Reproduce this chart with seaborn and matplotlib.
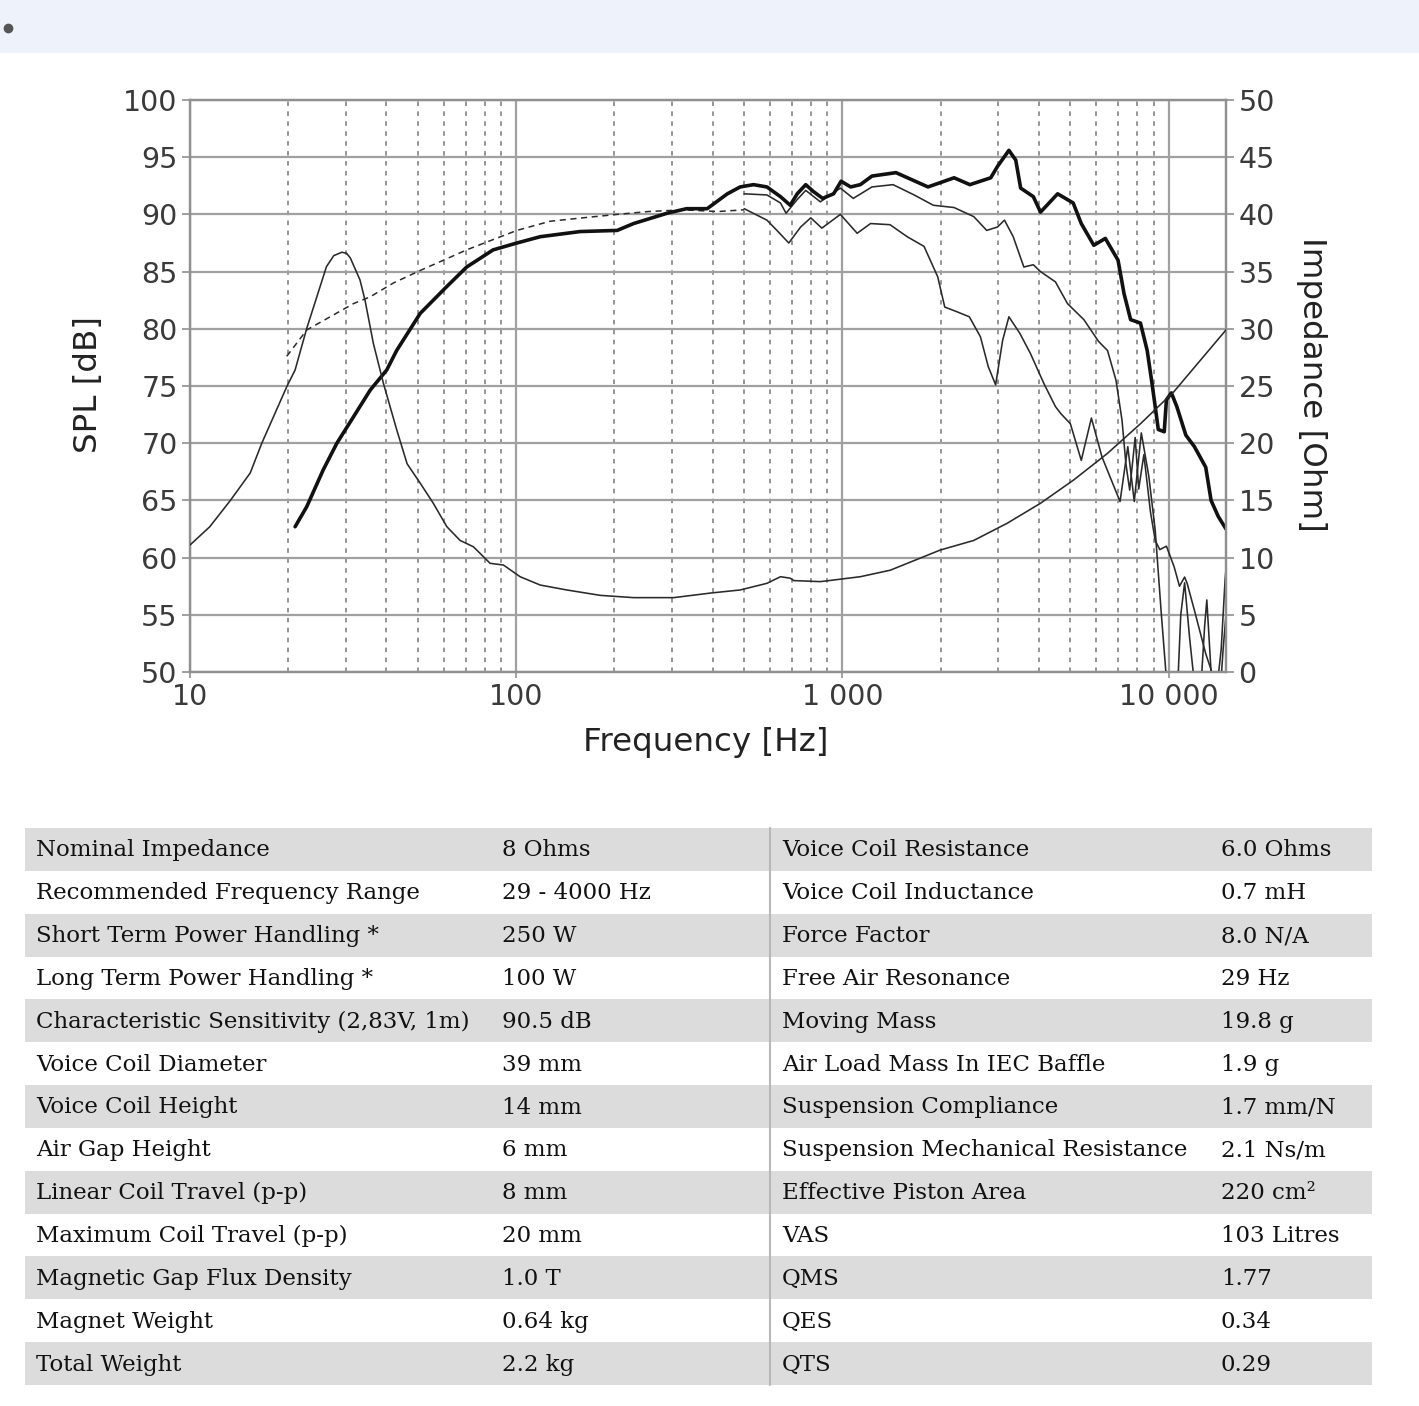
import numpy as np
import pandas as pd
import matplotlib
matplotlib.use("Agg")
import matplotlib.pyplot as plt
import seaborn as sns
from matplotlib.ticker import FixedLocator, NullFormatter, FixedFormatter
from matplotlib.patches import Rectangle
from matplotlib.lines import Line2D

# ---------------- data ----------------
f_on = [21, 22.8, 25.6, 28.2, 31.7, 35.7, 40.1, 43, 50.8, 61.3, 70.5, 85, 100.5, 118.5, 157, 204, 229, 290,
        333, 385, 444, 486, 534, 587, 646, 692, 727, 772, 815, 870, 940, 991, 1060, 1135, 1232, 1460, 1830,
        2200, 2460, 2850, 2990, 3240, 3400, 3520, 3850, 4050, 4570, 5100, 5400, 5900, 6400, 7000, 7300,
        7650, 8200, 8600, 8900, 9100, 9300, 9700, 9850, 10200, 10600, 11300, 12000, 13000, 13500, 14200,
        15000]
spl_on = [62.7, 64.45, 67.66, 70.0, 72.3, 74.65, 76.4, 78.1, 81.35, 83.7, 85.4, 86.9, 87.5, 88.05, 88.5, 88.6,
          89.2, 90.1, 90.5, 90.5, 91.8, 92.4, 92.6, 92.4, 91.55, 90.8, 91.8, 92.6, 92.0, 91.4, 91.8, 92.9, 92.4,
          92.6, 93.35, 93.65, 92.4, 93.2, 92.6, 93.2, 94.2, 95.6, 94.75, 92.3, 91.55, 90.2, 91.8, 91.0, 89.2,
          87.3, 87.9, 86.0, 83.1, 80.8, 80.5, 78.1, 75.2, 73.2, 71.2, 71.0, 73.8, 74.4, 73.2, 70.7, 69.7,
          67.9, 65.0, 63.6, 62.5]

f_30 = [500, 587, 646, 672, 727, 772, 856, 986, 1080, 1232, 1430, 1660, 1900, 2200, 2530, 2770, 2990, 3140,
        3340, 3600, 3850, 4050, 4500, 4900, 5500, 6100, 6500, 6900, 7200, 7400, 7600, 7900, 8100, 8400, 8800,
        9100, 9400, 9850, 10400, 10800, 11200, 11400, 12000, 13000, 13500, 14000, 14500, 14900, 15000]
spl_30 = [91.8, 91.7, 91.0, 90.1, 91.3, 92.1, 91.1, 92.3, 91.4, 92.4, 92.6, 91.7, 90.8, 90.6, 89.8, 88.6, 88.9,
          89.5, 88.05, 85.4, 85.6, 85.0, 84.1, 82.2, 80.8, 78.9, 78.1, 75.5, 72.0, 68.2, 65.9, 70.5, 66.0,
          69.0, 64.0, 61.5, 60.7, 61.0, 59.2, 57.5, 58.3, 57.75, 55.4, 51.6, 50.2, 48.0, 52.0, 58.0, 59.0]

f_60 = [500, 587, 630, 685, 745, 800, 865, 986, 1110, 1220, 1400, 1580, 1780, 1960, 2060, 2240, 2450, 2650,
        2800, 2950, 3100, 3240, 3500, 3770, 4150, 4500, 4670, 5000, 5400, 5800, 6250, 7100, 7500, 7850, 8250,
        8700, 9100, 9500, 9800, 10100, 10600, 10900, 11200, 11600, 12000, 12400, 12900, 13100, 13500, 13800,
        14300, 14700, 15000]
spl_60 = [90.5, 89.5, 88.6, 87.5, 88.9, 89.7, 88.8, 90.0, 88.35, 89.2, 89.1, 88.05, 87.2, 84.55, 81.9, 81.5,
          81.05, 79.3, 76.7, 75.1, 79.0, 81.05, 79.6, 77.85, 75.2, 73.2, 72.6, 71.7, 68.5, 72.2, 68.8, 64.9,
          69.7, 64.9, 70.9, 67.1, 62.4, 55.1, 50.2, 46.0, 47.0, 55.0, 57.8, 53.0, 49.0, 46.0, 54.0, 56.3, 50.0,
          46.0, 47.0, 52.0, 55.0]

f_dash = [19.8, 22.8, 26.9, 31.7, 35.7, 42.0, 50.8, 59.9, 70.5, 85, 100.5, 127, 160, 204, 254, 325, 415, 500]
spl_dash = [77.6, 79.9, 81.05, 82.2, 82.8, 84.0, 85.1, 86.0, 86.9, 87.8, 88.6, 89.4, 89.7, 90.0, 90.25, 90.4,
            90.25, 90.4]

f_imp = [10, 11.5, 13.3, 15.3, 16.6, 19.8, 21.0, 22.8, 26.2, 27.6, 29.2, 30.2, 31.0, 33.2, 34.4, 36.5, 39.2,
         43.0, 46.3, 50.8, 55.7, 61.3, 67.3, 73.9, 83.2, 91.4, 102.8, 118.5, 143, 181, 229, 304, 394, 486, 587,
         646, 692, 709, 856, 940, 1135, 1403, 1995, 2528, 3200, 4050, 5125, 6490, 8200, 10380, 15000]
z_imp = [11.1, 12.7, 15.0, 17.4, 20.0, 24.94, 26.4, 30.04, 35.43, 36.4, 36.69, 36.6, 36.2, 34.27, 32.5, 28.7,
         25.2, 21.2, 18.2, 16.5, 14.75, 12.7, 11.5, 10.95, 9.5, 9.35, 8.33, 7.6, 7.17, 6.7, 6.5, 6.5, 6.9,
         7.17, 7.75, 8.33, 8.2, 7.99, 7.9, 8.04, 8.33, 8.9, 10.66, 11.5, 13.0, 14.75, 16.8, 19.1, 21.7, 24.5,
         29.9]

x_ticks = [10, 100, 1000, 10000]
x_tick_labels = ["10", "100", "1 000", "10 000"]
spl_ticks = list(range(50, 101, 5))
imp_ticks = list(range(0, 51, 5))

left_params = ["Nominal Impedance", "Recommended Frequency Range", "Short Term Power Handling *",
               "Long Term Power Handling *", "Characteristic Sensitivity (2,83V, 1m)", "Voice Coil Diameter",
               "Voice Coil Height", "Air Gap Height", "Linear Coil Travel (p-p)", "Maximum Coil Travel (p-p)",
               "Magnetic Gap Flux Density", "Magnet Weight", "Total Weight"]
left_values = ["8 Ohms", "29 - 4000 Hz", "250 W", "100 W", "90.5 dB", "39 mm", "14 mm", "6 mm", "8 mm",
               "20 mm", "1.0 T", "0.64 kg", "2.2 kg"]
right_params = ["Voice Coil Resistance", "Voice Coil Inductance", "Force Factor", "Free Air Resonance",
                "Moving Mass", "Air Load Mass In IEC Baffle", "Suspension Compliance",
                "Suspension Mechanical Resistance", "Effective Piston Area", "VAS", "QMS", "QES", "QTS"]
right_values = ["6.0 Ohms", "0.7 mH", "8.0 N/A", "29 Hz", "19.8 g", "1.9 g", "1.7 mm/N", "2.1 Ns/m",
                "220 cm²", "103 Litres", "1.77", "0.34", "0.29"]

# ---------------- figure ----------------
sns.set_theme(style="white")
plt.rcParams['font.family'] = ['DejaVu Sans']

W, H = 1419, 1406
fig = plt.figure(figsize=(W / 100, H / 100), dpi=100)
fig.patch.set_facecolor("white")


def fx(px):
    return px / W


def fy(py):
    return 1 - py / H


# top band with bullet
fig.add_artist(Rectangle((0, fy(53)), 1, 53 / H, transform=fig.transFigure,
                         facecolor="#eef2fa", edgecolor="none", zorder=0))
fig.add_artist(Line2D([fx(8)], [fy(28)], marker="o", markersize=6, color="#555555",
                      transform=fig.transFigure))

ax = fig.add_axes([fx(190), fy(672), (1226 - 190) / W, (672 - 100) / H])
ax.set_xscale("log")

thin_c = "#2a2a2a"
df_on = pd.DataFrame({"f": f_on, "spl": spl_on})
df_30 = pd.DataFrame({"f": f_30, "spl": spl_30})
df_60 = pd.DataFrame({"f": f_60, "spl": spl_60})
df_d = pd.DataFrame({"f": f_dash, "spl": spl_dash})
df_z = pd.DataFrame({"f": f_imp, "z": z_imp})

sns.lineplot(data=df_60, x="f", y="spl", ax=ax, color=thin_c, lw=1.15, estimator=None, sort=False, zorder=3)
sns.lineplot(data=df_30, x="f", y="spl", ax=ax, color=thin_c, lw=1.15, estimator=None, sort=False, zorder=3)
sns.lineplot(data=df_d, x="f", y="spl", ax=ax, color=thin_c, lw=1.1, linestyle=(0, (4, 3)),
             estimator=None, sort=False, zorder=3)
sns.lineplot(data=df_on, x="f", y="spl", ax=ax, color="#111111", lw=2.6, estimator=None, sort=False, zorder=4)

ax.set_xlim(10, 15000)
ax.set_ylim(50, 100)
ax.xaxis.set_major_locator(FixedLocator(x_ticks))
ax.xaxis.set_major_formatter(FixedFormatter(x_tick_labels))
minor = [m * d for d in (10, 100, 1000) for m in range(2, 10)]
ax.xaxis.set_minor_locator(FixedLocator(minor))
ax.xaxis.set_minor_formatter(NullFormatter())
ax.set_yticks(spl_ticks)
ax.set_xlabel("")
ax.set_ylabel("")

grid_c = "#a0a0a0"
ax.grid(which="major", axis="both", color=grid_c, lw=1.6, zorder=1)
ax.grid(which="minor", axis="x", color="#8c8c8c", lw=1.3, linestyle=(0, (2.5, 3)), zorder=1)
ax.set_axisbelow(True)

for s in ax.spines.values():
    s.set_color("#909090")
    s.set_linewidth(1.6)

ax.tick_params(axis="y", which="major", direction="out", length=6, width=1.2, color="#909090",
               labelsize=20.5, labelcolor="#3a3a3a", pad=3, left=True)
ax.tick_params(axis="x", which="major", direction="out", length=4, width=1.2, color="#909090",
               labelsize=20.5, labelcolor="#3a3a3a", pad=4, bottom=True)
ax.tick_params(axis="x", which="minor", length=0)

ax2 = ax.twinx()
sns.lineplot(data=df_z, x="f", y="z", ax=ax2, color=thin_c, lw=1.15, estimator=None, sort=False, zorder=3)
ax2.set_ylim(0, 50)
ax2.set_xlim(10, 15000)
ax2.set_yticks(imp_ticks)
ax2.grid(False)
ax2.set_ylabel("")
ax2.set_xlabel("")
for s in ax2.spines.values():
    s.set_color("#909090")
    s.set_linewidth(1.6)
ax2.tick_params(axis="y", direction="out", length=6, width=1.2, color="#909090",
                labelsize=20.5, labelcolor="#3a3a3a", pad=3, right=True)

fig.text(fx(88), fy(385), "SPL [dB]", rotation=90, ha="center", va="center", fontsize=23.4, color="#222222")
fig.text(fx(1312), fy(384), "Impedance [Ohm]", rotation=270, ha="center", va="center", fontsize=23.4,
         color="#222222")
fig.text(fx(706), fy(742), "Frequency [Hz]", ha="center", va="center", fontsize=23.4, color="#222222")

# ---------------- table ----------------
top, bottom = 828, 1385
n = len(left_params)
rh = (bottom - top) / n
for i in range(n):
    y0 = top + i * rh
    if i % 2 == 0:
        fig.add_artist(Rectangle((fx(25), fy(y0 + rh)), (1372 - 25) / W, rh / H, transform=fig.transFigure,
                                 facecolor="#dcdcdc", edgecolor="none", zorder=0))
    yc = fy(y0 + rh / 2 + 1)
    kw = dict(ha="left", va="center", fontsize=16.5, color="#111111", family=["DejaVu Serif"])
    fig.text(fx(36), yc, left_params[i], **kw)
    fig.text(fx(502), yc, left_values[i], **kw)
    fig.text(fx(782), yc, right_params[i], **kw)
    fig.text(fx(1221), yc, right_values[i], **kw)

fig.add_artist(Line2D([fx(770), fx(770)], [fy(top), fy(bottom)], color="#b8b8b8", lw=1.5,
                      transform=fig.transFigure))

fig.savefig("out.png", dpi=100, facecolor="white")
